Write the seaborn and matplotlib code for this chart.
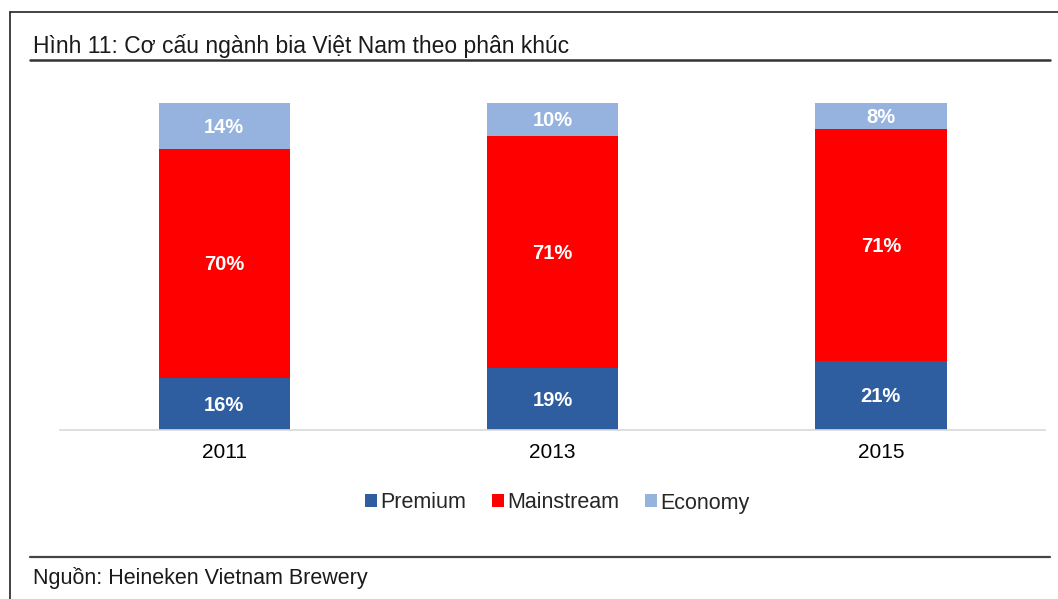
import matplotlib
matplotlib.use("Agg")
import matplotlib.pyplot as plt
from matplotlib.lines import Line2D
from matplotlib.patches import Patch
import seaborn as sns
import pandas as pd
import numpy as np

years = ["2011", "2013", "2015"]
premium = [16, 19, 21]
mainstream = [70, 71, 71]
economy = [14, 10, 8]
series_names = ["Premium", "Mainstream", "Economy"]
colors = ["#2E5E9F", "#FF0000", "#95B3DE"]

title = "Hình 11: Cơ cấu ngành bia Việt Nam theo phân khúc"
source = "Nguồn: Heineken Vietnam Brewery"

sns.set_theme(style="white")
plt.rcParams["font.family"] = ["Liberation Sans", "DejaVu Sans"]

W, H = 1058, 599
fig = plt.figure(figsize=(W / 100, H / 100), dpi=100)
ax = fig.add_axes([60 / W, 1 - 430 / H, (1045 - 60) / W, (430 - 103) / H])

df = pd.DataFrame({"year": years, "premium": premium,
                   "mainstream": mainstream, "economy": economy})
df["c2"] = df["premium"] + df["mainstream"]
df["c3"] = df["c2"] + df["economy"]

bw = 0.4
sns.barplot(data=df, x="year", y="c3", color=colors[2], width=bw,
            saturation=1, ax=ax, linewidth=0)
sns.barplot(data=df, x="year", y="c2", color=colors[1], width=bw,
            saturation=1, ax=ax, linewidth=0)
sns.barplot(data=df, x="year", y="premium", color=colors[0], width=bw,
            saturation=1, ax=ax, linewidth=0)

ax.set_xlim(-0.5, 2.5)
ax.set_ylim(0, 100)
for i in range(len(years)):
    bottoms = [0, premium[i], premium[i] + mainstream[i]]
    vals = [premium[i], mainstream[i], economy[i]]
    for b, v in zip(bottoms, vals):
        ax.text(i, b + v / 2 - 0.4, f"{v}%", ha="center", va="center",
                color="white", fontsize=14.5, fontweight="bold")

ax.set_xlabel("")
ax.set_ylabel("")
ax.set_yticks([])
ax.tick_params(axis="x", length=0, labelsize=15, pad=9, colors="black")
for s in ["top", "left", "right"]:
    ax.spines[s].set_visible(False)
ax.spines["bottom"].set_color("#D9D9D9")
ax.spines["bottom"].set_linewidth(1.2)

handles = [Patch(facecolor=c, edgecolor="none") for c in colors]
fig.legend(handles, series_names, loc="center", bbox_to_anchor=(557 / W, 1 - 503 / H),
           ncol=3, frameon=False, fontsize=15.5, handlelength=0.55, handleheight=0.55,
           handletextpad=0.15, columnspacing=1.2)

# frame, title and source
def hline(y, x0, x1, color, lw):
    fig.add_artist(Line2D([x0 / W, x1 / W], [1 - y / H, 1 - y / H],
                          color=color, lw=lw, transform=fig.transFigure))

hline(12, 10, W, "#222222", 1.2)
fig.add_artist(Line2D([10 / W, 10 / W], [1 - 12 / H, 0], color="#222222", lw=1.2,
                      transform=fig.transFigure))
hline(60, 30, 1050, "#333333", 1.8)
hline(557, 30, 1050, "#444444", 1.6)

fig.text(33 / W, 1 - 46 / H, title, fontsize=16.5, color="#1A1A1A", va="center", ha="left")
fig.text(33 / W, 1 - 578 / H, source, fontsize=15.5, color="#1A1A1A", va="center", ha="left")

fig.savefig("out.png", dpi=100, facecolor="white")
